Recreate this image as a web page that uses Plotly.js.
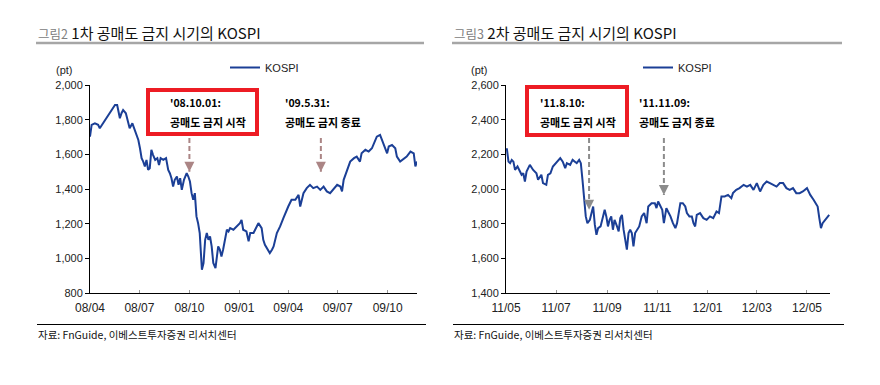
<!DOCTYPE html>
<html><head><meta charset="utf-8">
<script src="https://cdn.plot.ly/plotly-3.0.1.min.js"></script>
<style>body{margin:0;background:#fff}#c{width:880px;height:385px}</style>
</head><body><div id="c"></div>
<script>
// ---- Data: 1st short-selling ban period (2008-2009)
const dates1 = ["2008-04-01","2008-04-04","2008-04-10","2008-04-16","2008-04-19","2008-04-25","2008-05-02","2008-05-08","2008-05-14","2008-05-17","2008-05-21","2008-05-26","2008-05-29","2008-06-01","2008-06-06","2008-06-10","2008-06-13","2008-06-18","2008-06-23","2008-06-29","2008-07-02","2008-07-05","2008-07-08","2008-07-11","2008-07-14","2008-07-17","2008-07-20","2008-07-23","2008-07-26","2008-07-30","2008-08-03","2008-08-06","2008-08-09","2008-08-14","2008-08-19","2008-08-23","2008-08-26","2008-08-29","2008-09-01","2008-09-04","2008-09-08","2008-09-11","2008-09-14","2008-09-17","2008-09-21","2008-09-26","2008-09-29","2008-10-02","2008-10-05","2008-10-08","2008-10-11","2008-10-14","2008-10-17","2008-10-20","2008-10-24","2008-10-27","2008-10-30","2008-11-02","2008-11-05","2008-11-08","2008-11-11","2008-11-14","2008-11-18","2008-11-23","2008-11-26","2008-11-29","2008-12-02","2008-12-06","2008-12-09","2008-12-12","2008-12-15","2008-12-21","2008-12-27","2009-01-02","2009-01-05","2009-01-08","2009-01-14","2009-01-18","2009-01-21","2009-01-27","2009-02-02","2009-02-05","2009-02-11","2009-02-14","2009-02-17","2009-02-20","2009-02-26","2009-03-02","2009-03-05","2009-03-11","2009-03-17","2009-03-23","2009-03-29","2009-04-01","2009-04-07","2009-04-14","2009-04-20","2009-04-23","2009-04-29","2009-05-05","2009-05-11","2009-05-17","2009-05-24","2009-05-30","2009-06-05","2009-06-11","2009-06-17","2009-06-24","2009-06-30","2009-07-06","2009-07-09","2009-07-12","2009-07-18","2009-07-24","2009-07-31","2009-08-05","2009-08-11","2009-08-14","2009-08-21","2009-08-27","2009-09-02","2009-09-05","2009-09-11","2009-09-17","2009-09-23","2009-09-30","2009-10-03","2009-10-09","2009-10-15","2009-10-18","2009-10-24","2009-10-31","2009-11-05","2009-11-12","2009-11-18","2009-11-21","2009-11-24"];
const kospi1 = [1702,1770,1779,1770,1750,1779,1808,1837,1866,1885,1885,1808,1837,1856,1837,1789,1750,1779,1731,1683,1635,1578,1558,1530,1568,1510,1520,1626,1597,1568,1578,1539,1578,1568,1578,1510,1491,1462,1414,1453,1472,1424,1462,1395,1453,1491,1472,1443,1376,1338,1376,1242,1203,1146,934,973,1107,1146,1107,1126,1069,973,944,1069,1050,1011,1050,1107,1165,1155,1174,1165,1184,1203,1222,1165,1155,1098,1146,1146,1184,1203,1174,1107,1078,1059,1030,1050,1069,1146,1184,1232,1280,1299,1338,1338,1366,1299,1376,1405,1424,1405,1414,1395,1414,1386,1376,1405,1424,1414,1386,1453,1510,1558,1578,1587,1558,1606,1626,1616,1635,1654,1702,1712,1664,1606,1645,1654,1635,1587,1558,1578,1587,1616,1606,1530,1558];

// ---- Data: 2nd short-selling ban period (2011-2012)
const dates2 = ["2011-05-02","2011-05-04","2011-05-06","2011-05-08","2011-05-10","2011-05-12","2011-05-15","2011-05-18","2011-05-20","2011-05-22","2011-05-24","2011-05-26","2011-05-30","2011-06-03","2011-06-07","2011-06-09","2011-06-13","2011-06-15","2011-06-19","2011-06-21","2011-06-24","2011-06-27","2011-07-02","2011-07-06","2011-07-09","2011-07-12","2011-07-14","2011-07-18","2011-07-21","2011-07-24","2011-07-26","2011-07-29","2011-07-31","2011-08-02","2011-08-04","2011-08-06","2011-08-08","2011-08-11","2011-08-13","2011-08-15","2011-08-17","2011-08-19","2011-08-21","2011-08-24","2011-08-27","2011-08-29","2011-08-31","2011-09-02","2011-09-04","2011-09-06","2011-09-08","2011-09-10","2011-09-13","2011-09-15","2011-09-17","2011-09-19","2011-09-21","2011-09-23","2011-09-25","2011-09-27","2011-09-29","2011-10-01","2011-10-03","2011-10-05","2011-10-07","2011-10-10","2011-10-13","2011-10-16","2011-10-19","2011-10-21","2011-10-25","2011-10-29","2011-10-31","2011-11-02","2011-11-05","2011-11-07","2011-11-09","2011-11-12","2011-11-14","2011-11-17","2011-11-20","2011-11-23","2011-11-25","2011-11-29","2011-12-02","2011-12-05","2011-12-07","2011-12-10","2011-12-13","2011-12-15","2011-12-17","2011-12-19","2011-12-23","2011-12-27","2011-12-31","2012-01-04","2012-01-08","2012-01-12","2012-01-15","2012-01-18","2012-01-22","2012-01-26","2012-01-30","2012-02-01","2012-02-05","2012-02-09","2012-02-14","2012-02-18","2012-02-22","2012-02-26","2012-03-01","2012-03-05","2012-03-09","2012-03-13","2012-03-17","2012-03-21","2012-03-25","2012-03-29","2012-04-02","2012-04-06","2012-04-10","2012-04-14","2012-04-18","2012-04-22","2012-04-26","2012-05-01","2012-05-05","2012-05-09","2012-05-12","2012-05-14","2012-05-16","2012-05-18","2012-05-20","2012-05-23","2012-05-25","2012-05-28"];
const kospi2 = [2235,2158,2149,2168,2158,2110,2130,2101,2082,2091,2043,2101,2139,2110,2091,2053,2082,2034,2024,2082,2091,2130,2158,2178,2158,2120,2149,2139,2168,2158,2149,2168,2149,2053,1938,1842,1803,1822,1861,1899,1794,1736,1774,1784,1842,1880,1842,1784,1822,1842,1765,1822,1784,1755,1832,1851,1765,1698,1650,1746,1765,1746,1669,1746,1765,1784,1842,1861,1803,1899,1918,1918,1890,1928,1899,1880,1803,1890,1870,1842,1803,1774,1803,1918,1918,1899,1861,1842,1842,1803,1784,1851,1861,1832,1822,1842,1832,1870,1861,1957,1957,1966,1947,1976,1995,2005,2024,2014,2024,1995,2034,1986,2024,2043,2034,2024,2014,2034,2034,2005,1995,2005,1976,1976,1986,2005,1966,1938,1909,1899,1832,1774,1803,1822,1832,1851];

// ---- Text / events
const seriesName = "KOSPI";
const titles = [["그림2", "1차 공매도 금지 시기의 KOSPI"], ["그림3", "2차 공매도 금지 시기의 KOSPI"]];
const source = "자료: FnGuide, 이베스트투자증권 리서치센터";
const unit = "(pt)";
const events1 = [{date: "2008-10-01", label: "'08.10.01:", text: "공매도 금지 시작", top: 1694, tip: 1500},
                 {date: "2009-05-31", label: "'09.5.31:", text: "공매도 금지 종료", top: 1694, tip: 1500}];
const events2 = [{date: "2011-08-10", label: "'11.8.10:", text: "공매도 금지 시작", top: 2294, tip: 1880},
                 {date: "2011-11-09", label: "'11.11.09:", text: "공매도 금지 종료", top: 2294, tip: 1965}];

// ---- Layout helpers (pixel -> paper)
const W = 880, H = 385;
const px = x => x / W, py = y => 1 - y / H;
const CJK = "Noto Sans CJK KR, sans-serif";
const ARIAL = "Liberation Sans, Arial, sans-serif";
const NARROW = "Liberation Sans Narrow, Liberation Sans, Arial, sans-serif";
const blue = "#1b3f96";

const traces = [
  {x: dates1, y: kospi1, type: "scatter", mode: "lines", name: seriesName, xaxis: "x", yaxis: "y",
   line: {color: blue, width: 2}, legend: "legend", showlegend: true},
  {x: dates2, y: kospi2, type: "scatter", mode: "lines", name: seriesName, xaxis: "x2", yaxis: "y2",
   line: {color: blue, width: 2}, legend: "legend2", showlegend: true}
];

function xax(domain, range, tick0, dtick) {
  return {domain, range, type: "date", tick0, dtick, tickformat: "%y/%m",
    showgrid: false, zeroline: false, showline: true, linecolor: "#000", linewidth: 1,
    ticks: "inside", ticklen: 3, tickcolor: "#999", ticklabelstandoff: 4,
    tickfont: {family: NARROW, size: 12, color: "#222"}};
}
function yax(domain, range) {
  return {domain, range, dtick: 200, tickformat: ",", showgrid: false, zeroline: false,
    showline: true, linecolor: "#000", linewidth: 1, ticks: "outside", ticklen: 4, tickcolor: "#000",
    tickfont: {family: ARIAL, size: 11, color: "#222"}};
}
const yDom = [py(293), py(85)];
const legendStyle = {xanchor: "left", yanchor: "top", bgcolor: "rgba(0,0,0,0)",
  font: {family: ARIAL, size: 11, color: "#222"}};
const layout = {
  width: W, height: H, margin: {l: 0, r: 0, t: 0, b: 0}, paper_bgcolor: "#fff", plot_bgcolor: "#fff",
  showlegend: true,
  xaxis: Object.assign(xax([px(90), px(417)], ["2008-04-01", "2009-11-24"], "2008-04-01", "M3"), {anchor: "y"}),
  yaxis: Object.assign(yax(yDom, [800, 2000]), {anchor: "x"}),
  xaxis2: Object.assign(xax([px(506), px(830)], ["2011-05-01", "2012-05-29"], "2011-05-01", "M2"), {anchor: "y2"}),
  yaxis2: Object.assign(yax(yDom, [1400, 2600]), {anchor: "x2"}),
  legend: Object.assign({x: px(225), y: py(53)}, legendStyle),
  legend2: Object.assign({x: px(638), y: py(53)}, legendStyle),
  shapes: [], annotations: []
};

// titles, underlines, source lines
[[36, 424], [452, 842]].forEach(([x0, x1], i) => {
  layout.annotations.push({xref: "paper", yref: "paper", x: px(x0), y: py(32), xanchor: "left", yanchor: "middle",
    showarrow: false, text: '<span style="font-size:12.5px;color:#808080">' + titles[i][0] + '</span> ' + titles[i][1],
    font: {family: CJK, size: 15, color: "#111"}});
  layout.shapes.push({type: "line", xref: "paper", yref: "paper", x0: px(x0), x1: px(x1), y0: py(43), y1: py(43),
    line: {color: "#a6a6a6", width: 2.5}});
  layout.shapes.push({type: "line", xref: "paper", yref: "paper", x0: px(x0 + 1), x1: px(x1 + 2), y0: py(324.5), y1: py(324.5),
    line: {color: "#000", width: 1}});
  layout.annotations.push({xref: "paper", yref: "paper", x: px(x0), y: py(334), xanchor: "left", yanchor: "middle",
    showarrow: false, text: source, font: {family: CJK, size: 10.5, color: "#111"}});
});
// unit labels
[[64, 70], [480, 70]].forEach(([x, y]) => layout.annotations.push({xref: "paper", yref: "paper", x: px(x), y: py(y),
  xanchor: "center", yanchor: "middle", showarrow: false, text: unit, font: {family: ARIAL, size: 11, color: "#222"}}));

// red boxes
[[148, 90, 257, 134], [527, 87, 627, 135]].forEach(([x0, y0, x1, y1]) => layout.shapes.push({type: "rect",
  xref: "paper", yref: "paper", x0: px(x0), x1: px(x1), y0: py(y0), y1: py(y1), line: {color: "#ed1c24", width: 4}}));

// event labels and dashed arrows
function addEvents(events, xr, yr, textX, color) {
  events.forEach((e, i) => {
    layout.annotations.push({xref: "paper", yref: "paper", x: px(textX[i]), y: py(103), xanchor: "left", yanchor: "middle",
      showarrow: false, text: "<b>" + e.label + "</b>", font: {family: CJK, size: 10.5, color: "#000"}});
    layout.annotations.push({xref: "paper", yref: "paper", x: px(textX[i]), y: py(122), xanchor: "left", yanchor: "middle",
      showarrow: false, text: "<b>" + e.text + "</b>", font: {family: CJK, size: 11, color: "#000"}});
    layout.shapes.push({type: "line", xref: xr, yref: yr, x0: e.date, x1: e.date, y0: e.top, y1: e.tip,
      line: {color, width: 2, dash: "5px,3px"}});
    layout.annotations.push({xref: xr, yref: yr, x: e.date, y: e.tip, ax: 0, ay: -7, showarrow: true,
      arrowhead: 2, arrowsize: 1, arrowwidth: 2, arrowcolor: color, text: ""});
  });
}
addEvents(events1, "x", "y", [168, 283], "#ab8585");
addEvents(events2, "x2", "y2", [538, 637], "#8c8c8c");

Plotly.newPlot("c", traces, layout, {staticPlot: true, displayModeBar: false});
</script></body></html>
